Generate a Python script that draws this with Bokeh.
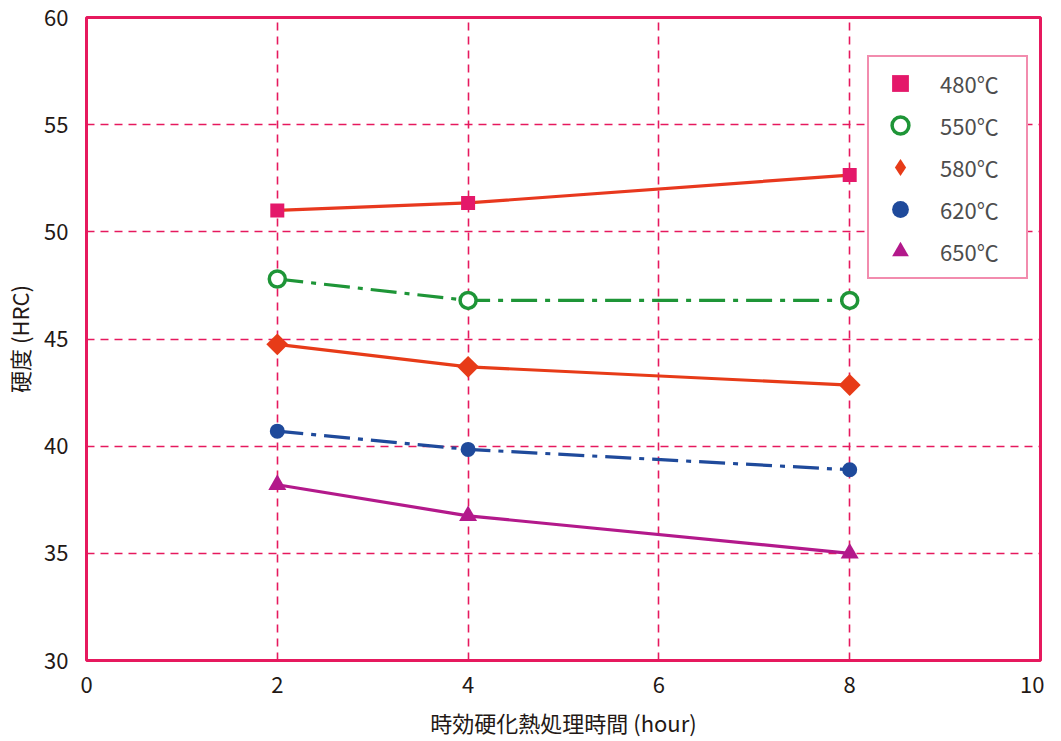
import math
from bokeh.plotting import figure
from bokeh.models import Legend, LegendItem, FixedTicker, ColumnDataSource
from bokeh.embed import file_html
from bokeh.resources import INLINE

# ---- data ----
hours = [2, 4, 8]
temps = ["480℃", "550℃", "580℃", "620℃", "650℃"]
hrc_480 = [51.0, 51.35, 52.65]
hrc_550 = [47.8, 46.8, 46.8]
hrc_580 = [44.75, 43.7, 42.85]
hrc_620 = [40.7, 39.85, 38.9]
hrc_650 = [38.2, 36.75, 35.0]
x_ticks = [0, 2, 4, 6, 8, 10]
y_ticks = [30, 35, 40, 45, 50, 55, 60]

FONT = "Noto Sans CJK JP"
PINK = "#E6195E"

W, H = 1044, 740
BL, BR, BT, BB = 80, 4, 17, 68

p = figure(width=W, height=H, x_range=(0, 10), y_range=(30, 60),
           output_backend="svg", toolbar_location=None,
           min_border_left=BL, min_border_right=BR, min_border_top=BT,
           min_border_bottom=BB)

p.outline_line_color = PINK
p.outline_line_width = 3
p.background_fill_color = "white"
p.border_fill_color = "white"

for ax in (p.xaxis[0], p.yaxis[0]):
    ax.axis_line_color = None
    ax.major_tick_line_color = None
    ax.minor_tick_line_color = None
    ax.major_label_text_font = FONT
    ax.major_label_text_font_size = "22px"
    ax.major_label_text_color = "#231815"
    ax.axis_label_text_font = FONT
    ax.axis_label_text_font_size = "22px"
    ax.axis_label_text_font_style = "normal"
    ax.axis_label_text_color = "#231815"

p.xaxis.ticker = FixedTicker(ticks=x_ticks)
p.yaxis.ticker = FixedTicker(ticks=y_ticks)
p.xaxis.axis_label = "時効硬化熱処理時間 (hour)"
p.yaxis.axis_label = "硬度 (HRC)"
p.xaxis.major_label_standoff = 10
p.yaxis.major_label_standoff = 12
p.xaxis.axis_label_standoff = 10
p.yaxis.axis_label_standoff = 6

p.xgrid.ticker = FixedTicker(ticks=[2, 4, 6, 8])
p.ygrid.ticker = FixedTicker(ticks=[35, 40, 45, 50, 55])
for g in (p.xgrid[0], p.ygrid[0]):
    g.grid_line_color = PINK
    g.grid_line_width = 1.6
    g.grid_line_dash = "8 6"

DASHDOT = "26 8 5 8"

series = [
    (hrc_480, "#E8381E", "solid", dict(marker="square", size=14, fill_color="#E4186A", line_color="#E4186A", line_width=0)),
    (hrc_550, "#1E9537", DASHDOT, dict(marker="circle", size=16, fill_color="white", line_color="#1E9537", line_width=3.5)),
    (hrc_580, "#E73B18", "solid", dict(marker="square", size=15.5, angle=math.pi / 4, fill_color="#E73B18", line_color="#E73B18", line_width=0)),
    (hrc_620, "#1F4A9B", DASHDOT, dict(marker="circle", size=15, fill_color="#1F4A9B", line_color="#1F4A9B", line_width=0)),
    (hrc_650, "#B3198B", "solid", dict(marker="triangle", size=18, fill_color="#B3198B", line_color="#B3198B", line_width=0)),
]

items = []
for (vals, lc, dash, mk), name in zip(series, temps):
    src = ColumnDataSource(dict(x=hours, y=vals))
    p.line("x", "y", source=src, line_color=lc, line_width=3.2, line_dash=dash)
    if mk.get("angle"):
        # diamond drawn inside the rotated square, used for the legend swatch
        leg_r = p.scatter("x", "y", source=src, marker="diamond", size=20,
                          fill_color=mk["fill_color"], line_color=mk["fill_color"], line_width=0)
        p.scatter("x", "y", source=src, **mk)
    else:
        leg_r = p.scatter("x", "y", source=src, **mk)
    items.append(LegendItem(label=name, renderers=[leg_r]))

BB_ACTUAL = 80
frame_h = H - BT - BB_ACTUAL
leg_h = 220
leg_top_off = 59 - BT
legend = Legend(items=items, location=(869 - (8 + BL), frame_h - leg_top_off - leg_h))
legend.border_line_color = PINK
legend.border_line_width = 2
legend.background_fill_alpha = 1
legend.label_text_font = FONT
legend.label_text_font_size = "22px"
legend.label_text_color = "#4d4d4d"
legend.glyph_width = 52
legend.glyph_height = 42
legend.label_height = 22
legend.label_width = 81
legend.label_standoff = 14
legend.spacing = 0
legend.padding = 5
legend.margin = 0
p.add_layout(legend, "center")

open("out.html", "w").write(file_html(p, INLINE))
